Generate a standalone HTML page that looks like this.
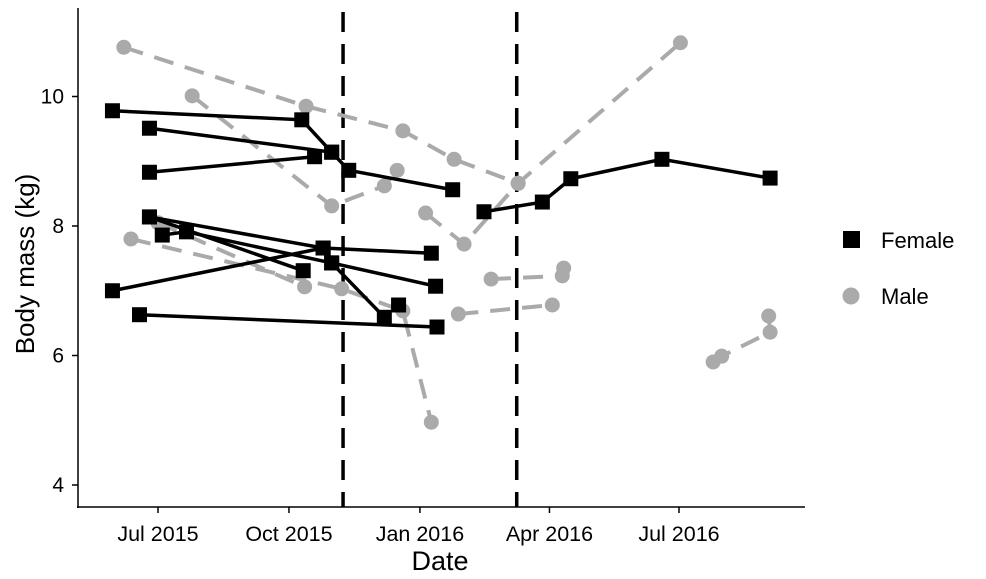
<!DOCTYPE html>
<html><head><meta charset="utf-8"><style>
html,body{margin:0;padding:0;background:#fff;}
svg{display:block;font-family:"Liberation Sans",sans-serif;}
</style></head><body>
<svg id="c" width="986" height="579"></svg>
<script>
// data: day offsets from 2015-07-01, body mass kg
const femaleSeries = [
 [[-32,9.78],[101,9.64],[122,9.14],[134,8.86],[207,8.56]],
 [[-6,9.51],[122,9.14]],
 [[-6,8.83],[110,9.07]],
 [[-6,8.14],[116,7.66],[192,7.58]],
 [[3,7.86],[20,7.91],[122,7.43],[195,7.07]],
 [[-6,8.14],[102,7.31]],
 [[-32,7.00],[116,7.66]],
 [[122,7.43],[159,6.59]],
 [[-13,6.63],[196,6.44]],
 [[169,6.78]],
 [[229,8.22],[270,8.37],[290,8.73],[354,9.03],[430,8.74]]
];
const maleSeries = [
 [[-24,10.76],[104,9.85],[172,9.47],[208,9.03],[253,8.66]],
 [[24,10.01],[122,8.31],[159,8.62],[168,8.86]],
 [[188,8.20],[215,7.72],[253,8.66],[367,10.83]],
 [[-19,7.80],[129,7.03],[172,6.69],[192,4.97]],
 [[0,8.05],[103,7.06]],
 [[211,6.64],[277,6.78]],
 [[234,7.18],[284,7.23],[285,7.35]],
 [[390,5.90],[396,5.99],[430,6.36],[429,6.61]]
];
const xTickDays = [0,92,184,275,366];
const xTickLabels = ["Jul 2015","Oct 2015","Jan 2016","Apr 2016","Jul 2016"];
const yTicks = [4,6,8,10];
const vlineDays = [130,252];

const NS="http://www.w3.org/2000/svg";
const svg=document.getElementById('c');
const X=d=>158+d*1.4235;
const Y=v=>485-(v-4)*64.75;
function mk(t,a,p){const e=document.createElementNS(NS,t);for(const k in a)e.setAttribute(k,a[k]);(p||svg).appendChild(e);return e;}

let ax=mk('line',{x1:78,y1:8,x2:78,y2:508,stroke:'#000','stroke-width':1.5});


let ax2=mk('line',{x1:77,y1:507,x2:805,y2:507,stroke:'#000','stroke-width':1.5});



yTicks.forEach(v=>{
 const t=mk('line',{x1:72,x2:78,y1:Y(v),y2:Y(v),stroke:'#000','stroke-width':1.5});
 
 
 const l=mk('text',{x:64,y:Y(v)+7,'text-anchor':'end','font-size':21});
 l.textContent=v;
 
 
});
xTickDays.forEach((d,i)=>{
 const t=mk('line',{x1:X(d),x2:X(d),y1:507,y2:513,stroke:'#000','stroke-width':1.5});
 
 
 const l=mk('text',{x:X(d),y:541,'text-anchor':'middle','font-size':21.5});
 l.textContent=xTickLabels[i];
 
 
});
vlineDays.forEach(d=>{
 const v=mk('line',{x1:X(d),x2:X(d),y1:12,y2:507,stroke:'#000','stroke-width':3.5,'stroke-dasharray':'20 12'});
 
 
});

function drawSeries(list,male){
 list.forEach(s=>{
  if(s.length>1){
   const p=mk('polyline',{points:s.map(q=>X(q[0])+','+Y(q[1])).join(' '),fill:'none',stroke:male?'#aaaaaa':'#000','stroke-width':male?4:3.5,'stroke-dasharray':male?'20 12':'none'});
   
   
  }
 });
 list.forEach(s=>s.forEach(q=>{
  let m;
  if(male) m=mk('circle',{cx:X(q[0]),cy:Y(q[1]),r:7.5,fill:'#aaaaaa'});
  else m=mk('rect',{x:X(q[0])-7.5,y:Y(q[1])-7.5,width:15,height:15,fill:'#000'});
  
  
 }));
}
drawSeries(maleSeries,true);
drawSeries(femaleSeries,false);

let yt=mk('text',{x:0,y:0,transform:'translate(34,264) rotate(-90)','text-anchor':'middle','font-size':26});
yt.textContent='Body mass (kg)';


let xt=mk('text',{x:440,y:570,'text-anchor':'middle','font-size':27});
xt.textContent='Date';



let lg=mk('g',{});


let ls=mk('rect',{x:843,y:231,width:17,height:17,fill:'#000'},lg);


let lt=mk('text',{x:881,y:248,'font-size':22},lg);lt.textContent='Female';


let lc=mk('circle',{cx:851,cy:296,r:8.5,fill:'#aaaaaa'},lg);


let lt2=mk('text',{x:881,y:304,'font-size':22},lg);lt2.textContent='Male';


</script>
</body></html>
